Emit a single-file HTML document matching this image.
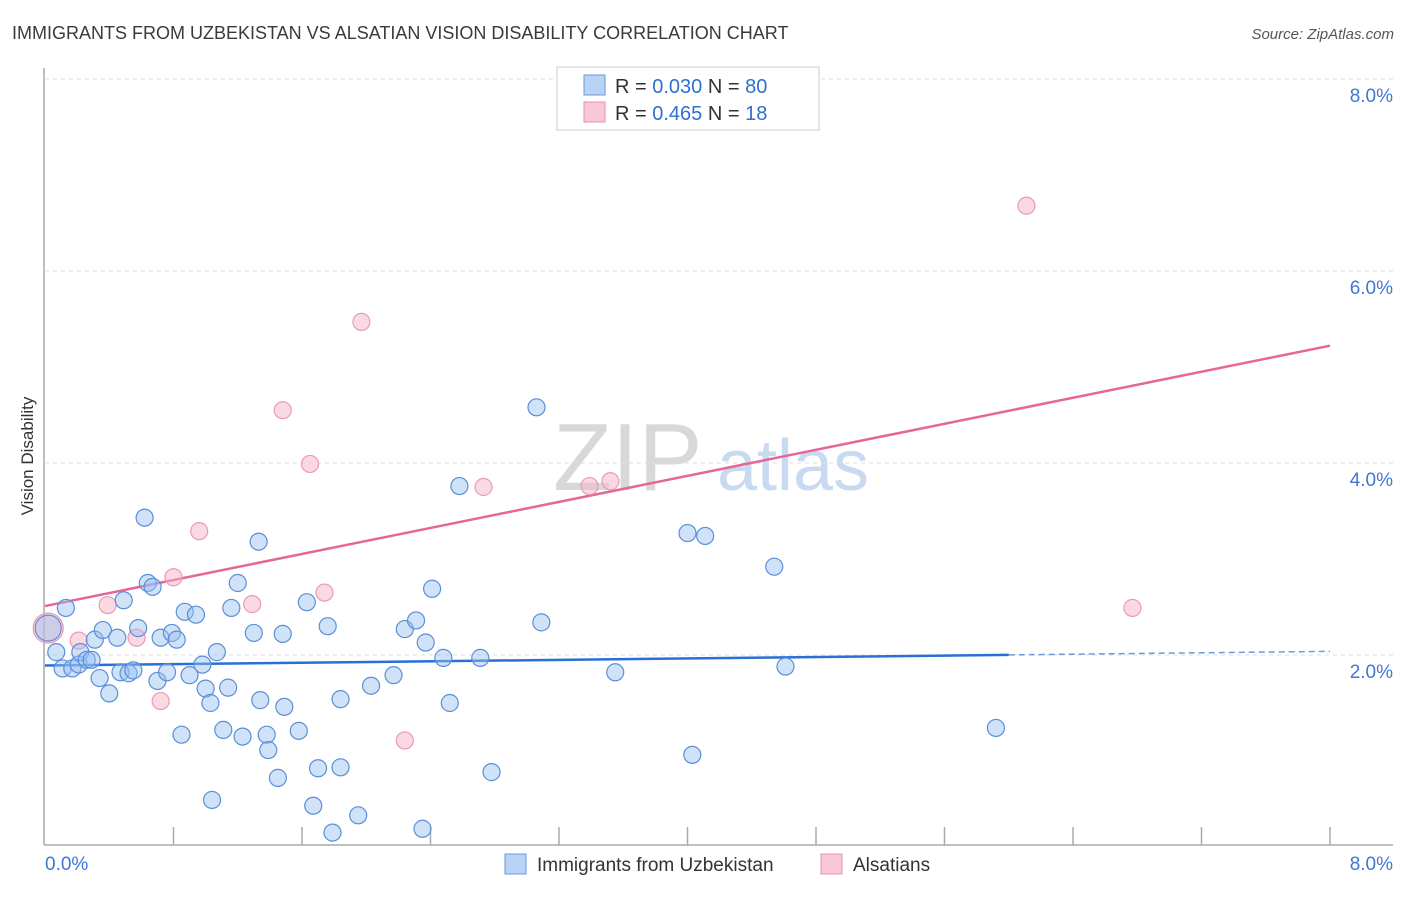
<!DOCTYPE html>
<html><head><meta charset="utf-8"><style>
body{margin:0;background:#fff;font-family:"Liberation Sans",sans-serif;}
svg text{font-family:"Liberation Sans",sans-serif;}
</style></head><body>
<svg id="chart" width="1406" height="892" xmlns="http://www.w3.org/2000/svg">
<text x="12" y="39" font-size="18" fill="#3a3a3a">IMMIGRANTS FROM UZBEKISTAN VS ALSATIAN VISION DISABILITY CORRELATION CHART</text>
<text x="1394" y="39" font-size="15" fill="#555" text-anchor="end" font-style="italic">Source: ZipAtlas.com</text>
<g>
<text x="553" y="490" font-size="96" fill="#d8d8d8" font-family="Liberation Serif,serif">ZIP</text>
<text x="717" y="490" font-size="72" fill="#c8daf0">atlas</text>
</g>
<g id="grid"></g>
<g id="axes"></g>
<g id="trends"></g>
<g id="points"></g>
<text transform="translate(33,456) rotate(-90)" font-size="17" fill="#333" text-anchor="middle">Vision Disability</text>
<g>
<rect x="557" y="67" width="262" height="63" fill="#fff" stroke="#ccc"/>
<rect x="584" y="75" width="21" height="20" fill="#b8d3f5" stroke="#6a9ad8"/>
<rect x="584" y="102" width="21" height="20" fill="#f9c8d6" stroke="#e890aa"/>
<text x="615" y="93" font-size="20" fill="#333">R = <tspan fill="#2f6fd0">0.030</tspan>   N = <tspan fill="#2f6fd0">80</tspan></text>
<text x="615" y="120" font-size="20" fill="#333">R =  <tspan fill="#2f6fd0">0.465</tspan>   N =  <tspan fill="#2f6fd0">18</tspan></text>
</g>
<g>
<rect x="505" y="854" width="21" height="20" fill="#b8d3f5" stroke="#6a9ad8"/>
<text x="537" y="871" font-size="19" fill="#333">Immigrants from Uzbekistan</text>
<rect x="821" y="854" width="21" height="20" fill="#f9c8d6" stroke="#e890aa"/>
<text x="853" y="871" font-size="19" fill="#333">Alsatians</text>
</g>
</svg>
<script>
const yTicks=[2,4,6,8];
const yTickLabels=["2.0%","4.0%","6.0%","8.0%"];
const xTickLabels=["0.0%","8.0%"];
const blueX=[.02,.07,.11,.13,.17,.21,.22,.26,.29,.31,.34,.36,.40,.45,.47,.49,.52,.55,.58,.62,.64,.67,.70,.72,.76,.79,.82,.85,.87,.90,.94,.98,1.00,1.03,1.04,1.07,1.11,1.14,1.16,1.20,1.23,1.30,1.33,1.34,1.38,1.39,1.45,1.48,1.49,1.58,1.63,1.67,1.70,1.76,1.79,1.84,1.84,1.95,2.03,2.17,2.24,2.31,2.35,2.37,2.41,2.48,2.52,2.58,2.71,2.78,3.06,3.09,3.55,4.00,4.03,4.11,4.54,4.61,5.92];
const blueY=[2.28,2.03,1.86,2.49,1.86,1.90,2.03,1.95,1.95,2.16,1.76,2.26,1.60,2.18,1.82,2.57,1.81,1.84,2.28,3.43,2.75,2.71,1.73,2.18,1.82,2.23,2.16,1.17,2.45,1.79,2.42,1.90,1.65,1.50,0.49,2.03,1.22,1.66,2.49,2.75,1.15,2.23,3.18,1.53,1.17,1.01,0.72,2.22,1.46,1.21,2.55,0.43,0.82,2.30,0.15,0.83,1.54,0.33,1.68,1.79,2.27,2.36,0.19,2.13,2.69,1.97,1.50,3.76,1.97,0.78,4.58,2.34,1.82,3.27,0.96,3.24,2.92,1.88,1.24];
const pinkX=[.02,.21,.39,.57,.72,.80,.96,1.29,1.48,1.65,1.74,1.97,2.24,2.73,3.39,3.52,6.11,6.77];
const pinkY=[2.28,2.15,2.52,2.18,1.52,2.81,3.29,2.53,4.55,3.99,2.65,5.47,1.11,3.75,3.76,3.81,6.68,2.49];
const blueTrend=[1.89,0.0185];
const pinkTrend=[2.51,0.339];
const NS="http://www.w3.org/2000/svg";
const X=v=>45+v/8*1285, Y=v=>847-v*96;
function mk(tag,attrs,parent){const e=document.createElementNS(NS,tag);for(const k in attrs)e.setAttribute(k,attrs[k]);document.getElementById(parent).appendChild(e);return e;}
yTicks.forEach((t,i)=>{
 const l=mk('line',{x1:45,x2:1393,y1:Y(t),y2:Y(t),stroke:'#ddd','stroke-dasharray':'4,4'},'grid');
 
 
 const tx=mk('text',{x:1393,y:Y(t)+23,'font-size':19,fill:'#3d78d6','text-anchor':'end'},'grid');
 tx.textContent=yTickLabels[i];
 
 
});
let ax=mk('line',{x1:44,x2:44,y1:68,y2:845,stroke:'#aaa','stroke-width':1.5},'axes');


ax=mk('line',{x1:44,x2:1393,y1:845,y2:845,stroke:'#aaa','stroke-width':1.5},'axes');


for(let i=1;i<=10;i++){const t=mk('line',{x1:X(i*0.8),x2:X(i*0.8),y1:827,y2:845,stroke:'#aaa','stroke-width':1.5},'axes');
 
 }
[[0,'start',45],[8,'end',1393]].forEach((d,i)=>{const t=mk('text',{x:d[2],y:870,'font-size':19,fill:'#3d78d6','text-anchor':d[1]},'axes');t.textContent=xTickLabels[i];
 
 });
let tl=mk('line',{x1:X(0),y1:Y(blueTrend[0]),x2:X(6),y2:Y(blueTrend[0]+blueTrend[1]*6),stroke:'#2a6fd6','stroke-width':2.5},'trends');


tl=mk('line',{x1:X(6),y1:Y(blueTrend[0]+blueTrend[1]*6),x2:X(8),y2:Y(blueTrend[0]+blueTrend[1]*8),stroke:'#6a9ad8','stroke-width':1.5,'stroke-dasharray':'6,4'},'trends');


tl=mk('line',{x1:X(0),y1:Y(pinkTrend[0]),x2:X(8),y2:Y(pinkTrend[0]+pinkTrend[1]*8),stroke:'#e5679a','stroke-width':2.5},'trends');


pinkX.forEach((x,i)=>{const c=mk('circle',{cx:X(x),cy:Y(pinkY[i]),r:i==0?15:8.5,fill:'rgba(247,180,200,0.5)',stroke:'#eb9ab4','stroke-width':1.2},'points');
 
 });
blueX.forEach((x,i)=>{const c=mk('circle',{cx:X(x),cy:Y(blueY[i]),r:i==0?13:8.5,fill:'rgba(150,190,240,0.45)',stroke:'#5a8fd8','stroke-width':1.2},'points');
 
 });
</script>
</body></html>
